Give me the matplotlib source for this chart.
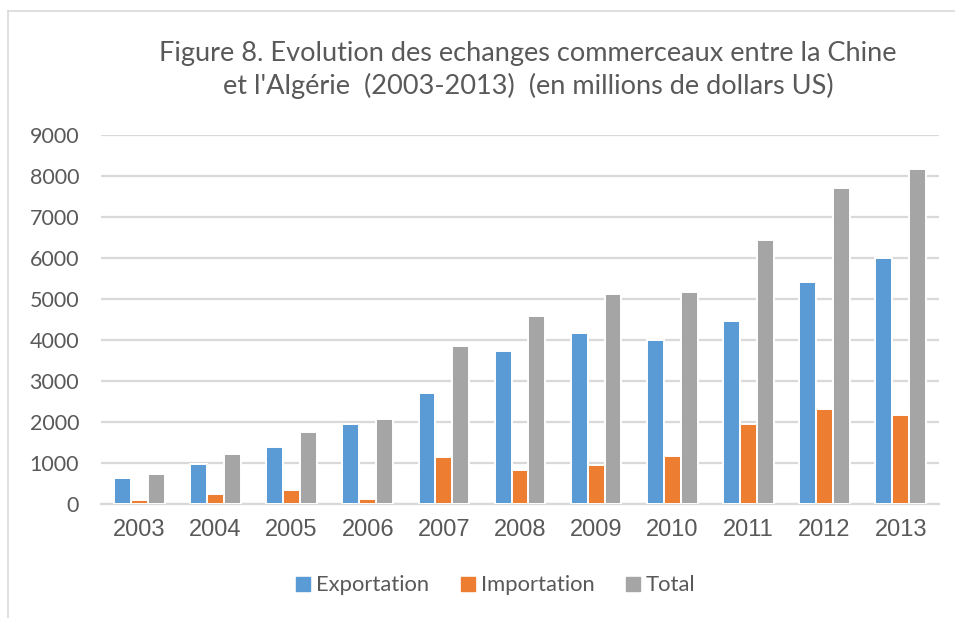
import numpy as np
import matplotlib
matplotlib.use("Agg")
import matplotlib.pyplot as plt
from matplotlib.lines import Line2D

# =========================
# Data (millions USD)
# =========================
years = ["2003", "2004", "2005", "2006", "2007", "2008",
         "2009", "2010", "2011", "2012", "2013"]
exportation = [640, 970, 1400, 1940, 2700, 3740, 4160, 4000, 4460, 5410, 6010]
importation = [100, 250, 350, 130, 1150, 840, 940, 1170, 1950, 2310, 2160]
total = [740, 1230, 1760, 2080, 3850, 4590, 5120, 5170, 6430, 7720, 8170]

series_names = ["Exportation", "Importation", "Total"]
colors = ["#5b9bd5", "#ed7d31", "#a5a5a5"]
text_color = "#595959"

# =========================
# Figure
# =========================
fig = plt.figure(figsize=(9.55, 6.18), dpi=100)
ax = fig.add_axes([0.106, 0.1845, 0.877, 0.597])

x = np.arange(len(years))
step = 0.222
for i, (vals, c) in enumerate(zip([exportation, importation, total], colors)):
    ax.bar(x + (i - 1) * step, vals, width=step, color=c,
           edgecolor="white", linewidth=1.4, label=series_names[i], zorder=3)

ax.set_xlim(-0.5, len(years) - 0.5)
ax.set_ylim(0, 9000)
ax.set_yticks(np.arange(0, 9001, 1000))
ax.set_xticks(x)
ax.set_xticklabels(years, family="Liberation Sans", fontsize=17, color=text_color)
for lab in ax.get_yticklabels():
    lab.set_family("Lato")
    lab.set_fontsize(15.5)
    lab.set_color(text_color)

ax.grid(axis="y", color="#d9d9d9", linewidth=1.6, zorder=0)
ax.tick_params(axis="both", length=0)
ax.tick_params(axis="y", pad=16)
ax.tick_params(axis="x", pad=11)
for s in ["top", "right", "left"]:
    ax.spines[s].set_visible(False)
ax.spines["bottom"].set_color("#d9d9d9")
ax.spines["bottom"].set_linewidth(1.6)

# Title
fig.text(0.553, 0.887, "Figure 8. Evolution des echanges commerceaux entre la Chine\n"
         "et l'Algérie  (2003-2013)  (en millions de dollars US)",
         ha="center", va="center", family="Lato", fontsize=19.5,
         color=text_color, linespacing=1.35)

# Legend
handles = [Line2D([0], [0], marker="s", linestyle="none", markersize=10,
                  markerfacecolor=c, markeredgecolor=c) for c in colors]
fig.legend(handles, series_names, loc="center", bbox_to_anchor=(0.517, 0.053),
           ncol=3, frameon=False, prop={"family": "Lato", "size": 15.8},
           labelcolor=text_color, handletextpad=0.1, columnspacing=1.25,
           handlelength=1.0)

# Chart border (extends beyond right/bottom edges)
fig.add_artist(Line2D([8 / 955, 1.0], [1 - 11 / 618, 1 - 11 / 618],
                      transform=fig.transFigure, color="#d9d9d9", linewidth=1.2))
fig.add_artist(Line2D([8 / 955, 8 / 955], [0.0, 1 - 11 / 618],
                      transform=fig.transFigure, color="#d9d9d9", linewidth=1.2))

fig.savefig("out.png", dpi=100, facecolor="white")
